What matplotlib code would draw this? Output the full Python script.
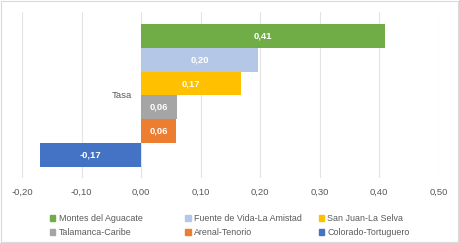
import matplotlib.pyplot as plt
from matplotlib.patches import Patch, Rectangle
from matplotlib.ticker import FuncFormatter

plt.rcParams['font.family'] = ['Liberation Sans', 'DejaVu Sans']

# data
areas = ["Montes del Aguacate", "Fuente de Vida-La Amistad", "San Juan-La Selva",
         "Talamanca-Caribe", "Arenal-Tenorio", "Colorado-Tortuguero"]
tasa = [0.41, 0.196, 0.168, 0.06, 0.059, -0.169]
colors = ["#70AD47", "#B4C7E7", "#FFC000", "#A5A5A5", "#ED7D31", "#4472C4"]
category = "Tasa"
xticks = [-0.2, -0.1, 0.0, 0.1, 0.2, 0.3, 0.4, 0.5]

fig = plt.figure(figsize=(4.59, 2.43), dpi=100)
ax = fig.add_axes([0.048, 0.267, 0.908, 0.684])

n = len(areas)
ypos = list(range(n - 1, -1, -1))
for y, v, c in zip(ypos, tasa, colors):
    ax.barh(y, v, height=1.0, color=c, zorder=3)
    ax.text(v / 2, y, f"{v:.2f}".replace(".", ","), ha="center", va="center",
            color="white", fontsize=6.8, fontweight="bold", zorder=4)

ax.set_xlim(-0.2, 0.5)
ax.set_ylim(-0.96, 6.0)
ax.set_xticks(xticks)
ax.xaxis.set_major_formatter(FuncFormatter(lambda v, p: f"{v:.2f}".replace(".", ",")))
ax.tick_params(axis="x", length=0, pad=7, labelsize=6.8, labelcolor="#595959")
ax.set_yticks([])
ax.grid(axis="x", color="#E3E3E3", linewidth=0.8, zorder=0)
for s in ax.spines.values():
    s.set_visible(False)

# category label next to the zero axis
ax.text(-0.015, (n - 1) / 2, category, ha="right", va="center",
        fontsize=6.8, color="#595959")

# legend, three columns
col_x = [0.109, 0.404, 0.694]
for i, x in enumerate(col_x):
    idx = [i, i + 3]
    handles = [Patch(color=colors[k]) for k in idx]
    fig.legend(handles, [areas[k] for k in idx], loc="upper left",
               bbox_to_anchor=(x, 0.12), frameon=False, fontsize=6.4,
               handlelength=0.6, handleheight=0.6, handletextpad=0.4,
               labelspacing=0.6, borderpad=0, borderaxespad=0,
               labelcolor="#595959")

fig.patches.append(Rectangle((0.002, 0.004), 0.996, 0.992, transform=fig.transFigure,
                             fill=False, edgecolor="#D9D9D9", linewidth=0.8))

fig.savefig("out.png", dpi=100)
